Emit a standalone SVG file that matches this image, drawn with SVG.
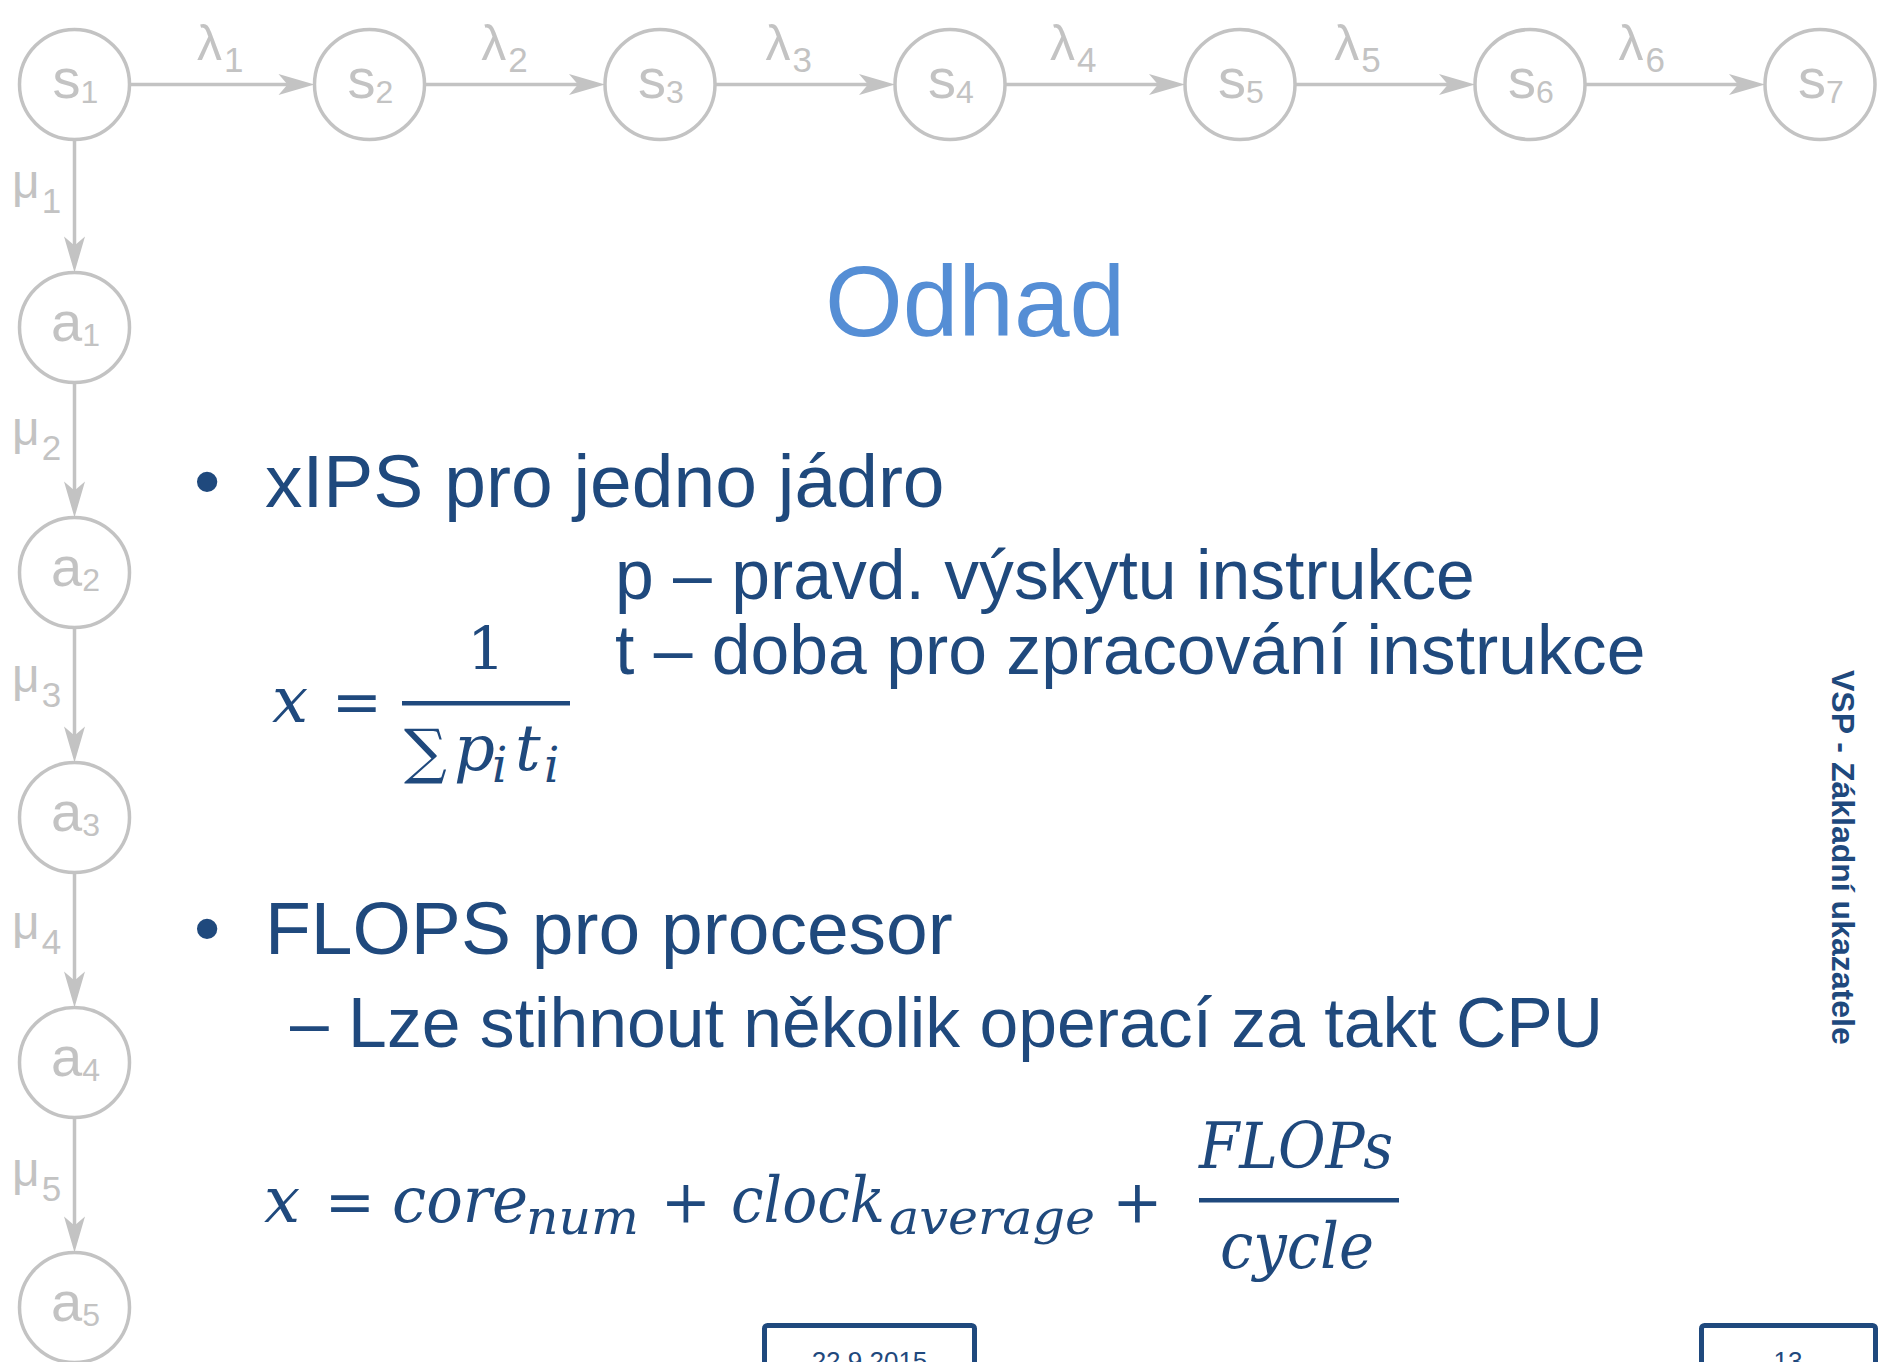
<svg xmlns="http://www.w3.org/2000/svg" width="1878" height="1362" viewBox="0 0 1878 1362">
<defs>
<style>
.node circle{fill:#fff;stroke:#c3c3c3;stroke-width:3.5}
.nl{font-family:'Liberation Sans',Arial,sans-serif;font-size:56px;fill:#c3c3c3;text-anchor:middle}
.nl tspan{font-size:32px}
.edge{stroke:#c3c3c3;stroke-width:3.5;fill:none;marker-end:url(#arr)}
.el{font-family:'Liberation Sans',Arial,sans-serif;font-size:50px;fill:#c3c3c3}
.el tspan{font-size:35px}
.mul{font-size:48px}
.body{font-family:'Liberation Sans',Arial,sans-serif;fill:#1f497d}
.l1{font-size:75px}
.l2{font-size:69.7px}
.title{font-family:'Liberation Sans',Arial,sans-serif;font-size:100px;fill:#558ed5;text-anchor:middle}
.m{font-family:'DejaVu Serif',serif;font-style:italic;fill:#1f497d;font-size:64px}
.mu{font-family:'DejaVu Serif',serif;fill:#1f497d;font-size:60px;text-anchor:middle}
.ms{font-size:48px}
.box{fill:#fff;stroke:#1f497d;stroke-width:5}
.pg{font-family:'Liberation Sans',Arial,sans-serif;font-size:26px;fill:#1f497d;text-anchor:middle}
</style>
<marker id="arr" viewBox="-17 -11 38 22" markerWidth="38" markerHeight="22" refX="0" refY="0" orient="auto" markerUnits="userSpaceOnUse">
<path d="M20,0 L-16,-10.5 L-7,0 L-16,10.5 Z" fill="#c3c3c3"/>
</marker>
</defs>
<rect width="1878" height="1362" fill="#fff"/>

<g id="connectors">
<path class="edge" d="M129.5,84.5 H294.5"/>
<path class="edge" d="M424.5,84.5 H585"/>
<path class="edge" d="M715,84.5 H875"/>
<path class="edge" d="M1005,84.5 H1165"/>
<path class="edge" d="M1295,84.5 H1455"/>
<path class="edge" d="M1585,84.5 H1745"/>
<path class="edge" d="M74.5,139.5 V252.5"/>
<path class="edge" d="M74.5,382.5 V497.5"/>
<path class="edge" d="M74.5,627.5 V742.5"/>
<path class="edge" d="M74.5,872.5 V987.5"/>
<path class="edge" d="M74.5,1117.5 V1232.5"/>
<text class="el" x="197" y="60">λ<tspan dx="2" dy="12">1</tspan></text>
<text class="el" x="481.3" y="60">λ<tspan dx="2" dy="12">2</tspan></text>
<text class="el" x="765.6" y="60">λ<tspan dx="2" dy="12">3</tspan></text>
<text class="el" x="1049.9" y="60">λ<tspan dx="2" dy="12">4</tspan></text>
<text class="el" x="1334.2" y="60">λ<tspan dx="2" dy="12">5</tspan></text>
<text class="el" x="1618.5" y="60">λ<tspan dx="2" dy="12">6</tspan></text>
<text class="el mul" x="12" y="198">μ<tspan dx="2" dy="15">1</tspan></text>
<text class="el mul" x="12" y="445">μ<tspan dx="2" dy="15">2</tspan></text>
<text class="el mul" x="12" y="692">μ<tspan dx="2" dy="15">3</tspan></text>
<text class="el mul" x="12" y="939">μ<tspan dx="2" dy="15">4</tspan></text>
<text class="el mul" x="12" y="1186">μ<tspan dx="2" dy="15">5</tspan></text>
</g>

<g id="node-s1" class="node"><circle cx="74.5" cy="84.5" r="55"/><text class="nl" x="75.5" y="98">s<tspan dy="5">1</tspan></text></g>
<g id="node-s2" class="node"><circle cx="369.5" cy="84.5" r="55"/><text class="nl" x="370.5" y="98">s<tspan dy="5">2</tspan></text></g>
<g id="node-s3" class="node"><circle cx="660" cy="84.5" r="55"/><text class="nl" x="661" y="98">s<tspan dy="5">3</tspan></text></g>
<g id="node-s4" class="node"><circle cx="950" cy="84.5" r="55"/><text class="nl" x="951" y="98">s<tspan dy="5">4</tspan></text></g>
<g id="node-s5" class="node"><circle cx="1240" cy="84.5" r="55"/><text class="nl" x="1241" y="98">s<tspan dy="5">5</tspan></text></g>
<g id="node-s6" class="node"><circle cx="1530" cy="84.5" r="55"/><text class="nl" x="1531" y="98">s<tspan dy="5">6</tspan></text></g>
<g id="node-s7" class="node"><circle cx="1820" cy="84.5" r="55"/><text class="nl" x="1821" y="98">s<tspan dy="5">7</tspan></text></g>
<g id="node-a1" class="node"><circle cx="74.5" cy="327.5" r="55"/><text class="nl" x="75.5" y="341">a<tspan dy="5">1</tspan></text></g>
<g id="node-a2" class="node"><circle cx="74.5" cy="572.5" r="55"/><text class="nl" x="75.5" y="586">a<tspan dy="5">2</tspan></text></g>
<g id="node-a3" class="node"><circle cx="74.5" cy="817.5" r="55"/><text class="nl" x="75.5" y="831">a<tspan dy="5">3</tspan></text></g>
<g id="node-a4" class="node"><circle cx="74.5" cy="1062.5" r="55"/><text class="nl" x="75.5" y="1076">a<tspan dy="5">4</tspan></text></g>
<g id="node-a5" class="node"><circle cx="74.5" cy="1307.5" r="55"/><text class="nl" x="75.5" y="1321">a<tspan dy="5">5</tspan></text></g>

<g id="slide">
<text class="title" x="975" y="336">Odhad</text>
<text class="body l1" x="194" y="507">•</text>
<text class="body l1" x="265" y="507">xIPS pro jedno jádro</text>
<text class="body l2" x="615" y="599">p – pravd. výskytu instrukce</text>
<text class="body l2" x="615" y="674">t – doba pro zpracování instrukce</text>
<text class="body l1" x="194" y="954">•</text>
<text class="body l1" x="265" y="954">FLOPS pro procesor</text>
<text class="body l2" x="290" y="1047">– Lze stihnout několik operací za takt CPU</text>

<g id="formula1">
<text class="m" x="272" y="722">x</text>
<text class="mu" x="357" y="722">=</text>
<text class="mu" x="486" y="670">1</text>
<rect x="402" y="701" width="168" height="4.5" fill="#1f497d"/>
<text class="mu" x="425.5" y="772" font-size="74">∑</text>
<text class="m" x="454" y="770">p</text>
<text class="m ms" x="492" y="782">i</text>
<text class="m" x="515" y="770">t</text>
<text class="m ms" x="544" y="782">i</text>
</g>

<g id="formula2">
<text class="m" x="264" y="1222">x</text>
<text class="mu" x="350" y="1222">=</text>
<text class="m" x="392" y="1222" textLength="136" lengthAdjust="spacingAndGlyphs">core</text>
<text class="m ms" x="526" y="1234" textLength="113" lengthAdjust="spacingAndGlyphs">num</text>
<text class="mu" x="686" y="1222">+</text>
<text class="m" x="731" y="1222" textLength="154" lengthAdjust="spacingAndGlyphs">clock</text>
<text class="m ms" x="889" y="1234" textLength="206" lengthAdjust="spacingAndGlyphs">average</text>
<text class="mu" x="1137.5" y="1222">+</text>
<rect x="1199" y="1198" width="200" height="4.5" fill="#1f497d"/>
<text class="m" x="1199" y="1168" textLength="194" lengthAdjust="spacingAndGlyphs">FLOPs</text>
<text class="m" x="1220" y="1268" textLength="154" lengthAdjust="spacingAndGlyphs">cycle</text>
</g>

<text class="body" x="0" y="0" transform="translate(1832,670) rotate(90)" font-size="32" font-weight="bold">VSP - Základní ukazatele</text>

<rect class="box" x="764.5" y="1325.5" width="210" height="60" rx="3"/>
<text class="pg" x="869.5" y="1370">22.9.2015</text>
<rect class="box" x="1701.5" y="1325.5" width="174" height="60" rx="3"/>
<text class="pg" x="1788" y="1370">13</text>
</g>
</svg>
